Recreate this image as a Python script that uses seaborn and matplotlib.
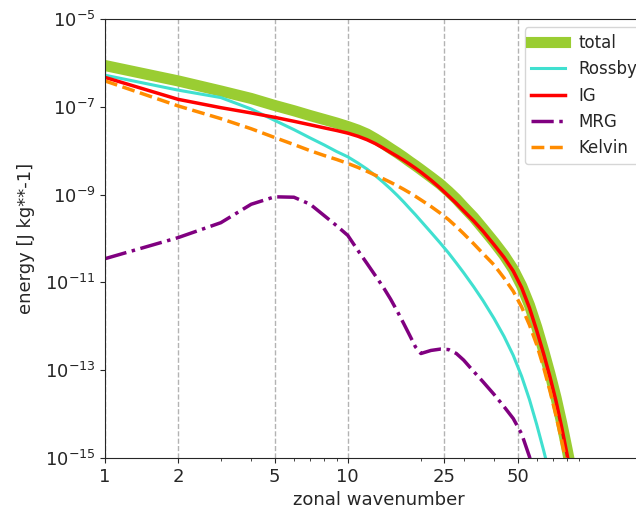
import numpy as np
import pandas as pd
from matplotlib import pyplot as plt
from matplotlib import ticker
import seaborn as sns

sns.set_style("ticks", rc={
    "xtick.major.size": 3.5, "ytick.major.size": 3.5,
    "xtick.minor.size": 2, "ytick.minor.size": 2,
    "axes.edgecolor": "0.15",
    "lines.solid_capstyle": "projecting",
})
plt.rcParams["font.family"] = ["DejaVu Sans"]

# zonal wavenumbers
wavenumber = [1, 2, 3, 4, 5, 6, 7, 8, 9, 10, 11, 12, 13, 14, 15, 16, 17, 18, 19, 20,
              22, 24, 26, 28, 30, 33, 36, 40, 44, 48, 52, 56, 60, 64, 68, 72, 76, 80, 84, 88]

# log10 of energy [J kg**-1]
log_total = [-6.06, -6.41, -6.64, -6.81, -6.97, -7.09, -7.20, -7.29, -7.37, -7.45,
             -7.53, -7.62, -7.73, -7.84, -7.95, -8.05, -8.15, -8.25, -8.34, -8.43,
             -8.60, -8.76, -8.93, -9.10, -9.28, -9.52, -9.77, -10.08, -10.38, -10.70,
             -11.08, -11.52, -12.02, -12.55, -13.08, -13.62, -14.20, -14.80, -15.40, -16.00]
log_rossby = [-6.28, -6.62, -6.79, -7.05, -7.31, -7.52, -7.71, -7.87, -8.02, -8.14,
              -8.28, -8.42, -8.57, -8.72, -8.87, -9.02, -9.17, -9.32, -9.46, -9.60,
              -9.86, -10.10, -10.33, -10.56, -10.78, -11.10, -11.41, -11.82, -12.23, -12.66,
              -13.14, -13.67, -14.24, -14.82, -15.40, -16.00, -16.60, -17.20, -17.80, -18.40]
log_ig = [-6.33, -6.83, -7.02, -7.14, -7.24, -7.33, -7.41, -7.48, -7.54, -7.60,
          -7.67, -7.75, -7.84, -7.94, -8.04, -8.13, -8.22, -8.31, -8.40, -8.49,
          -8.67, -8.85, -9.03, -9.20, -9.37, -9.60, -9.83, -10.14, -10.43, -10.74,
          -11.12, -11.58, -12.10, -12.62, -13.15, -13.70, -14.30, -14.92, -15.55, -16.20]
log_mrg = [-10.46, -9.98, -9.64, -9.22, -9.05, -9.06, -9.22, -9.48, -9.71, -9.93,
           -10.27, -10.57, -10.85, -11.11, -11.38, -11.66, -11.94, -12.21, -12.47, -12.62,
           -12.55, -12.52, -12.53, -12.62, -12.77, -13.03, -13.26, -13.55, -13.83, -14.10,
           -14.45, -14.97, -15.60, -16.30, -17.00, -17.70, -18.40, -19.10, -19.80, -20.50]
log_kelvin = [-6.41, -6.98, -7.27, -7.50, -7.70, -7.86, -8.00, -8.11, -8.20, -8.29,
              -8.38, -8.47, -8.56, -8.64, -8.72, -8.80, -8.88, -8.96, -9.04, -9.12,
              -9.27, -9.42, -9.57, -9.73, -9.89, -10.12, -10.34, -10.60, -10.90, -11.20,
              -11.56, -11.97, -12.42, -12.93, -13.47, -14.03, -14.60, -15.20, -15.80, -16.40]

major_xticks = [1, 2, 5, 10, 25, 50]
yticks = [1e-15, 1e-13, 1e-11, 1e-9, 1e-7, 1e-5]

series = [
    ("total", log_total, "yellowgreen", "-", 8),
    ("Rossby", log_rossby, "turquoise", "-", 2.2),
    ("IG", log_ig, "red", "-", 2.5),
    ("MRG", log_mrg, "purple", "-.", 2.5),
    ("Kelvin", log_kelvin, "darkorange", "--", 2.5),
]

fig = plt.figure(figsize=(6.36, 5.12), dpi=100)
# right part of the axes runs past the figure edge, as in the original
ax = fig.add_axes([105 / 636, 54 / 512, 547 / 636, 439 / 512])
ax.set_xscale("log")
ax.set_yscale("log")

for name, values, color, ls, lw in series:
    df = pd.DataFrame({"k": wavenumber, "energy": 10.0 ** np.array(values)})
    sns.lineplot(data=df, x="k", y="energy", ax=ax, color=color,
                 linestyle=ls, linewidth=lw, label=name)

ax.set_xlim(1, 179)
ax.set_ylim(1e-15, 1e-5)
ax.set_xticks(major_xticks)
ax.xaxis.set_major_formatter(ticker.ScalarFormatter())
ax.xaxis.set_minor_formatter(ticker.NullFormatter())
ax.set_yticks(yticks)
ax.yaxis.set_minor_locator(ticker.NullLocator())
ax.tick_params(labelsize=13)

ax.xaxis.grid(True, which="major", linestyle="--", color="0.7", linewidth=1)

ax.set_xlabel("zonal wavenumber", fontsize=13)
ax.set_ylabel("energy [J kg**-1]", fontsize=13, labelpad=7)
ax.legend(loc="upper right", fontsize=12)

fig.savefig("out.png", dpi=100)
